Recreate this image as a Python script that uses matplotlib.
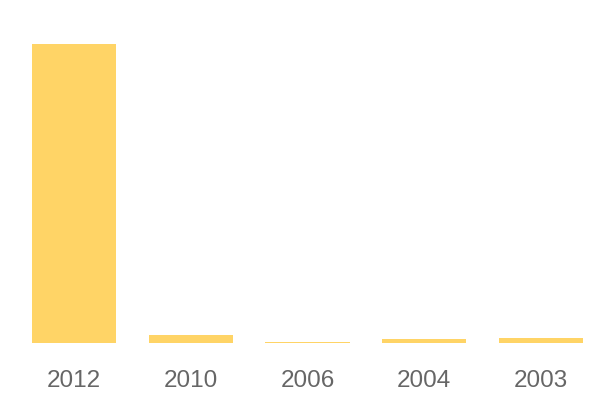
import matplotlib
matplotlib.use("Agg")
import matplotlib.pyplot as plt

categories = ["2012", "2010", "2006", "2004", "2003"]
values = [100, 2.7, 0.35, 1.3, 1.7]

fig = plt.figure(figsize=(6, 4), dpi=100)
ax = fig.add_axes([15.5/600, 1 - 343/400, 584/600, 299/400])
x = list(range(len(categories)))
ax.bar(x, values, width=0.72, color="#FFD466")
ax.set_xlim(-0.5, len(categories) - 0.5)
ax.set_ylim(0, 100)
ax.set_xticks(x)
ax.set_xticklabels(categories, fontsize=17.5, color="#666666", family="Liberation Sans")
ax.tick_params(axis="x", length=0, pad=19.5)
ax.set_yticks([])
for s in ax.spines.values():
    s.set_visible(False)
fig.savefig("out.png", dpi=100)
